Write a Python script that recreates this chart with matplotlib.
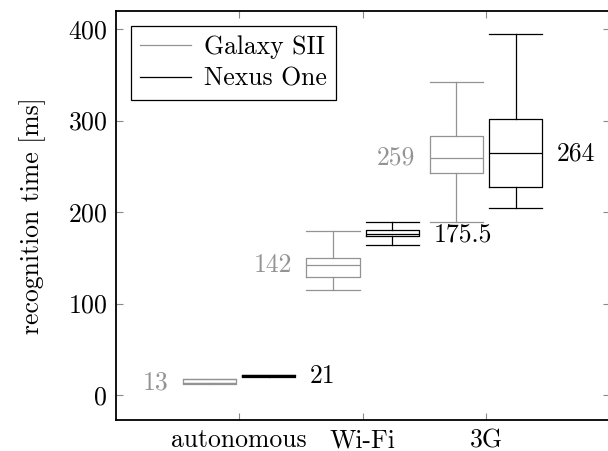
import matplotlib
matplotlib.use("Agg")
import matplotlib.pyplot as plt
from matplotlib.lines import Line2D

plt.rcParams['font.family'] = ['cmr10', 'DejaVu Serif']
plt.rcParams['axes.formatter.use_mathtext'] = True
plt.rcParams['mathtext.fontset'] = 'cm'

categories = ['autonomous', 'Wi-Fi', '3G']
devices = ['Galaxy SII', 'Nexus One']

# per category: (low whisker, q1, median, q3, high whisker)
galaxy = [(12, 13, 13, 17.5, 18), (115, 129, 142, 150, 179), (189, 243, 259, 283, 342)]
nexus = [(20, 20.5, 21, 21.5, 22), (164, 174, 175.5, 180, 189), (204, 227, 264, 302, 395)]
median_labels_galaxy = ['13', '142', '259']
median_labels_nexus = ['21', '175.5', '264']

gray = '#939393'
black = '#000000'
w = 0.43
off = 0.24
fs = 18.5


def stats(vals):
    lo, q1, med, q3, hi = vals
    return dict(whislo=lo, q1=q1, med=med, q3=q3, whishi=hi, fliers=[])


fig = plt.figure(figsize=(6.08, 4.51), dpi=100)
ax = fig.add_axes([115.7 / 608, 31 / 451, (609.5 - 115.7) / 608, 409 / 451])

pos = [i + 1 for i in range(len(categories))]
for data, shift, col in [(galaxy, -off, gray), (nexus, off, black)]:
    lp = dict(color=col, linewidth=0.9)
    ax.bxp([stats(v) for v in data], positions=[p + shift for p in pos],
           widths=w, capwidths=w, showfliers=False,
           boxprops=lp, whiskerprops=lp, capprops=lp, medianprops=lp)

for i, p in enumerate(pos):
    ax.text(p - off - w / 2 - 0.12, galaxy[i][2], median_labels_galaxy[i],
            color=gray, fontsize=fs, ha='right', va='center')
    ax.text(p + off + w / 2 + 0.12, nexus[i][2], median_labels_nexus[i],
            color=black, fontsize=fs, ha='left', va='center')

ax.set_xlim(0, 4)
ax.set_ylim(-27.3, 419.7)
ax.set_xticks(pos)
ax.set_xticklabels(categories)
ax.set_yticks([0, 100, 200, 300, 400])
ax.tick_params(direction='in', length=5, width=0.8, color='#8a8a8a',
               top=True, right=True, labelsize=fs, pad=6)
ax.set_ylabel('recognition time [ms]', fontsize=fs, labelpad=16)
for s in ax.spines.values():
    s.set_linewidth(1.3)

handles = [Line2D([], [], color=gray, lw=0.9), Line2D([], [], color=black, lw=0.9)]
leg = ax.legend(handles, devices, loc='upper left', fontsize=fs,
                fancybox=False, framealpha=1, edgecolor='black',
                borderaxespad=0.6, handlelength=2.0, handletextpad=0.5,
                borderpad=0.35, labelspacing=0.3)
leg.get_frame().set_linewidth(0.9)

fig.savefig('out.png', dpi=100)
